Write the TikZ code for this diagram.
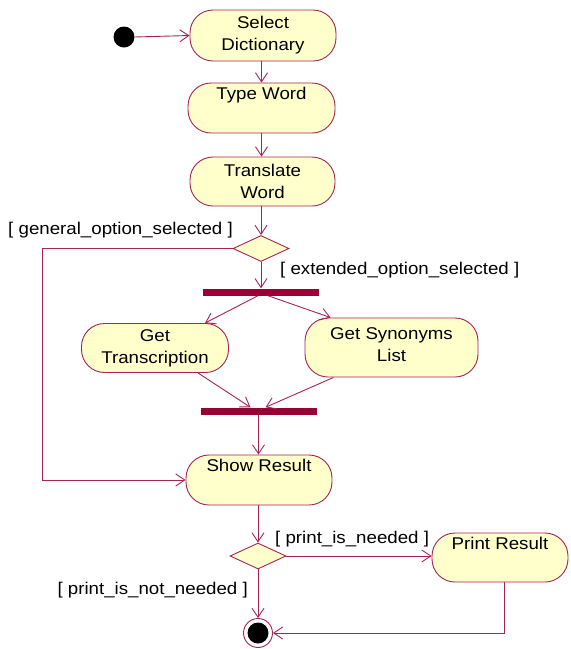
\documentclass[tikz,border=0pt]{standalone}
\usepackage{fontspec}
\setmainfont{Liberation Sans}[FakeStretch=1.1]
\usetikzlibrary{arrows.meta,shapes.geometric,calc}
\definecolor{edgered}{RGB}{165,35,85}
\definecolor{barred}{RGB}{153,0,51}
\definecolor{actfill}{RGB}{255,255,204}
\begin{document}
\begin{tikzpicture}[x=1pt,y=-1pt,
  activity/.style={draw=edgered, fill=actfill, line width=0.9pt, rectangle,
    rounded corners=23pt, align=center, inner sep=0pt, font=\fontsize{17}{22}\selectfont},
  decision/.style={draw=edgered, fill=actfill, line width=0.9pt, diamond,
    minimum width=56pt, minimum height=26pt, inner sep=0pt},
  syncbar/.style={fill=barred, draw=none, rectangle, minimum width=116pt,
    minimum height=7pt, inner sep=0pt},
  flow/.style={draw=edgered, line width=0.9pt,
    -{Straight Barb[length=9pt,width=12pt,line width=0.9pt]}},
  plainline/.style={draw=edgered, line width=0.9pt},
  guard/.style={font=\fontsize{17}{21}\selectfont, inner sep=0pt}]

\useasboundingbox (0,0) rectangle (571,649);

% start and end points
\node[circle, fill=black, minimum size=21pt, inner sep=0pt] (init) at (124,37) {};
\node[circle, draw=edgered, line width=0.9pt, fill=white, minimum size=29pt, inner sep=0pt] (final) at (258,633) {};
\node[circle, fill=black, minimum size=21pt, inner sep=0pt] (finalcore) at (258,633) {};

% activities
\node[activity, minimum width=146pt, minimum height=51pt] (sel) at (263,35.5) {Select\\Dictionary};
\node[activity, minimum width=147pt, minimum height=50pt] (type) at (261.5,108) {Type Word\\\strut};
\node[activity, minimum width=145pt, minimum height=49pt] (trans) at (262.5,181.5) {Translate\\Word};
\node[activity, minimum width=147pt, minimum height=49pt] (gt) at (155,348) {Get\\Transcription};
\node[activity, minimum width=173pt, minimum height=59pt] (gs) at (391.5,347.5) {Get Synonyms\\List\vspace{6pt}};
\node[activity, minimum width=146pt, minimum height=50pt] (show) at (259,480) {Show Result\\\strut};
\node[activity, minimum width=136pt, minimum height=49pt] (print) at (500,557.5) {Print Result\\\strut};

% decisions and synchronisation bars
\node[decision] (dec1) at (261,248.5) {};
\node[decision] (dec2) at (258,556) {};
\node[syncbar] (fork) at (261,292) {};
\node[syncbar] (join) at (258.5,411) {};

% bend points
\coordinate (bendA) at (42,248.5);
\coordinate (printout) at ($(print.south)+(4,0)$);

% connectors
\draw[flow] (init.east) -- (sel.west);
\draw[flow] (sel.south -| type.north) -- (type.north);
\draw[flow] (type.south) -- (type.south |- trans.north);
\draw[flow] (trans.south -| dec1.north) -- (dec1.north);
\draw[plainline] (dec1.west) -- (bendA);
\draw[flow] (bendA) |- (show.west);
\draw[flow] (dec1.south) -- (dec1.south |- fork.north);
\draw[flow] ($(fork.south)+(-3,0)$) -- ($(gt.north)+(50,0)$);
\draw[flow] ($(fork.south)+(7,0)$) -- ($(gs.north)+(-61,0)$);
\draw[flow] ($(gt.south)+(43,0)$) -- ($(join.north)+(-8,0)$);
\draw[flow] ($(gs.south)+(-58,0)$) -- ($(join.north)+(7,0)$);
\draw[flow] (join.south) -- (join.south |- show.north);
\draw[flow] (show.south -| dec2.north) -- (dec2.north);
\draw[flow] (dec2.east) -- (dec2.east -| print.west);
\draw[flow] (dec2.south) -- (final.north);
\draw[flow] (printout) |- (final.east);

% guard labels
\node[guard, anchor=east] (g1) at (233,230) {[ general\_option\_selected ]};
\node[guard, anchor=west] (g2) at (280,270) {[ extended\_option\_selected ]};
\node[guard, anchor=west] (g3) at (275,539) {[ print\_is\_needed ]};
\node[guard, anchor=east] (g4) at (248,590) {[ print\_is\_not\_needed ]};
\end{tikzpicture}
\end{document}
